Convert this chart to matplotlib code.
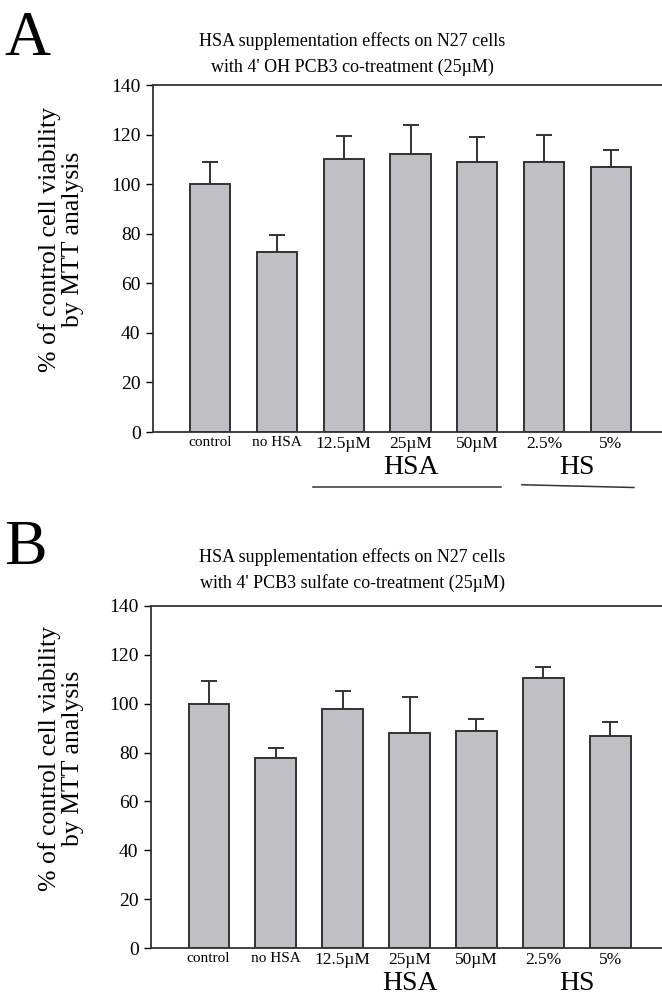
import numpy as np
import matplotlib
matplotlib.use("Agg")
from matplotlib import pyplot as plt
from matplotlib.transforms import blended_transform_factory

plt.rcParams['font.family'] = ['Liberation Serif', 'DejaVu Serif']

categories = ['control', 'no HSA', '12.5\u00b5M', '25\u00b5M', '50\u00b5M', '2.5%', '5%']
label_sizes = [11, 11, 12.5, 12.5, 12.5, 12.5, 12.5]

# panel A: 4' OH PCB3
means_a = [100, 72.5, 110, 112, 109, 109, 107]
errs_a = [9, 7, 9.3, 12, 10.2, 10.8, 6.8]

# panel B: 4' PCB3 sulfate
means_b = [100, 77.7, 97.7, 88.2, 88.7, 110.7, 86.7]
errs_b = [9.3, 4.3, 7.5, 14.7, 4.9, 4.2, 5.7]

titles = ["HSA supplementation effects on N27 cells\nwith 4' OH PCB3 co-treatment (25\u00b5M)",
          "HSA supplementation effects on N27 cells\nwith 4' PCB3 sulfate co-treatment (25\u00b5M)"]
panel_letters = ['A', 'B']
groups = [('HSA', [2, 3, 4]), ('HS', [5, 6])]
yticks = [0, 20, 40, 60, 80, 100, 120, 140]

W, H = 662, 997
fig = plt.figure(figsize=(W / 100, H / 100), dpi=100)

# axes boxes in pixels: left, top, bottom
boxes = [(153, 85, 432), (151, 606, 948)]


def draw_panel(ax, left, means, errs, group_y, draw_lines):
    x = np.arange(len(categories))
    ax.bar(x, means, width=0.6, color='#c0c0c4', edgecolor='#333333', linewidth=1.4, zorder=2)
    ax.errorbar(x, means, yerr=[np.zeros(len(errs)), errs], fmt='none', ecolor='#333333',
                elinewidth=1.4, capsize=6, capthick=1.4, zorder=1)
    ax.set_xlim(-0.86, 6.77)
    ax.set_ylim(0, 140)
    ax.set_yticks(yticks)
    ax.tick_params(axis='y', labelsize=14, length=5, width=1, direction='out', pad=4)
    ax.set_xticks(x)
    ax.set_xticklabels(categories)
    for lab, s in zip(ax.get_xticklabels(), label_sizes):
        lab.set_fontsize(s)
    ax.tick_params(axis='x', length=0, pad=3)
    ax.spines['right'].set_visible(False)
    for sp in ['left', 'top', 'bottom']:
        ax.spines[sp].set_linewidth(1.3)
        ax.spines[sp].set_color('#333333')
    ax.set_ylabel('% of control cell viability\nby MTT analysis', fontsize=18.5,
                  linespacing=1.1)
    ax.yaxis.label.set_va('center')
    width_px = W - left
    ax.yaxis.set_label_coords((61 - left) / width_px, 0.555)
    trans = blended_transform_factory(ax.transData, ax.transAxes)
    for name, idx in groups:
        ax.text(np.mean(idx), group_y, name, transform=trans, ha='center', va='center',
                fontsize=20)
    if draw_lines:
        ax.plot([1.54, 4.36], [-0.158, -0.158], transform=trans, color='#333333', lw=1.1,
                clip_on=False)
        ax.plot([4.67, 6.35], [-0.152, -0.160], transform=trans, color='#333333', lw=1.1,
                clip_on=False)


for i, (means, errs) in enumerate([(means_a, errs_a), (means_b, errs_b)]):
    left, top, bottom = boxes[i]
    ax = fig.add_axes([left / W, 1 - bottom / H, 1 - left / W, (bottom - top) / H])
    draw_panel(ax, left, means, errs, -0.101 if i == 0 else -0.104, i == 0)

fig.text(352 / W, 1 - 54 / H, titles[0], ha='center', va='center', fontsize=13, linespacing=1.62)
fig.text(352 / W, 1 - 570 / H, titles[1], ha='center', va='center', fontsize=13, linespacing=1.62)
fig.text(4 / W, 1 - 40 / H, panel_letters[0], ha='left', va='center', fontsize=46)
fig.text(4 / W, 1 - 549 / H, panel_letters[1], ha='left', va='center', fontsize=46)

fig.savefig('out.png', dpi=100)
